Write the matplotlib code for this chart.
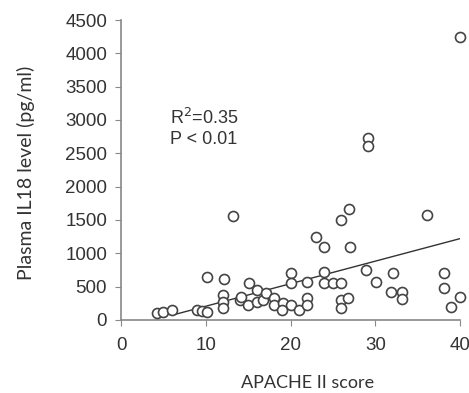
import matplotlib
matplotlib.use('Agg')
import matplotlib.pyplot as plt
import numpy as np

plt.rcParams['font.family'] = ['Liberation Sans', 'DejaVu Sans']

# APACHE II score vs plasma IL18 (pg/ml)
apache = [4.3, 5, 6, 9, 9.5, 10.2, 10.2, 12.1, 12, 12, 12, 13.2, 14, 14.1,
          15.1, 15, 16.1, 16, 16.8, 17.1, 18, 18, 19.1, 19, 20, 20, 20, 21,
          22, 22, 22, 23, 24, 24, 24, 25, 26, 26, 26, 26, 26.8, 26.9, 27,
          28.9, 29.1, 29.1, 30.1, 32.1, 31.9, 33.1, 33.1, 36.1, 38.1, 38.1,
          38.9, 40, 40]
il18 = [105, 120, 150, 150, 130, 120, 645, 615, 375, 270, 180, 1560, 300, 345,
        555, 225, 450, 270, 300, 405, 330, 225, 255, 150, 705, 555, 225, 150,
        570, 330, 225, 1245, 1095, 720, 555, 555, 1500, 555, 300, 180, 330, 1665, 1095,
        750, 2730, 2610, 570, 705, 420, 420, 315, 1575, 705, 480,
        195, 4245, 345]

# regression line end points
trend_x = [6, 40]
trend_y = [70, 1220]

x_ticks = [0, 10, 20, 30, 40]
y_ticks = [0, 500, 1000, 1500, 2000, 2500, 3000, 3500, 4000, 4500]

fig = plt.figure(figsize=(4.69, 3.93), dpi=100)
ax = fig.add_axes([0.258, 0.186, 0.723, 0.763])

ax.plot(trend_x, trend_y, color='#333333', linewidth=1.0)
ax.plot(apache, il18, 'o', markersize=7.2, markerfacecolor='white',
        markeredgecolor='#444444', markeredgewidth=1.2, linestyle='none',
        clip_on=False, zorder=3)

ax.set_xlim(0, 40)
ax.set_ylim(0, 4500)
ax.set_xticks(x_ticks)
ax.set_yticks(y_ticks)
ax.spines['top'].set_visible(False)
ax.spines['right'].set_visible(False)
for s in ['left', 'bottom']:
    ax.spines[s].set_color('#888888')
    ax.spines[s].set_linewidth(1.2)
ax.tick_params(colors='#888888', labelcolor='#333333', labelsize=13.5, length=4)
ax.tick_params(axis='x', pad=8)
ax.tick_params(axis='y', pad=6)

lab_font = ['Lato', 'Liberation Sans']
ax.set_xlabel('APACHE II score', fontsize=13, color='#333333', family=lab_font)
ax.set_ylabel('Plasma IL18 level (pg/ml)', fontsize=14, color='#333333', family=lab_font)
ax.xaxis.set_label_coords(0.55, -0.183)
ax.yaxis.set_label_coords(-0.255, 0.49)

ax.text(5.8, 3030, 'R$^2$=0.35', fontsize=13, color='#333333', va='center')
ax.text(5.8, 2700, 'P < 0.01', fontsize=13, color='#333333', va='center')

fig.savefig('out.png', dpi=100)
